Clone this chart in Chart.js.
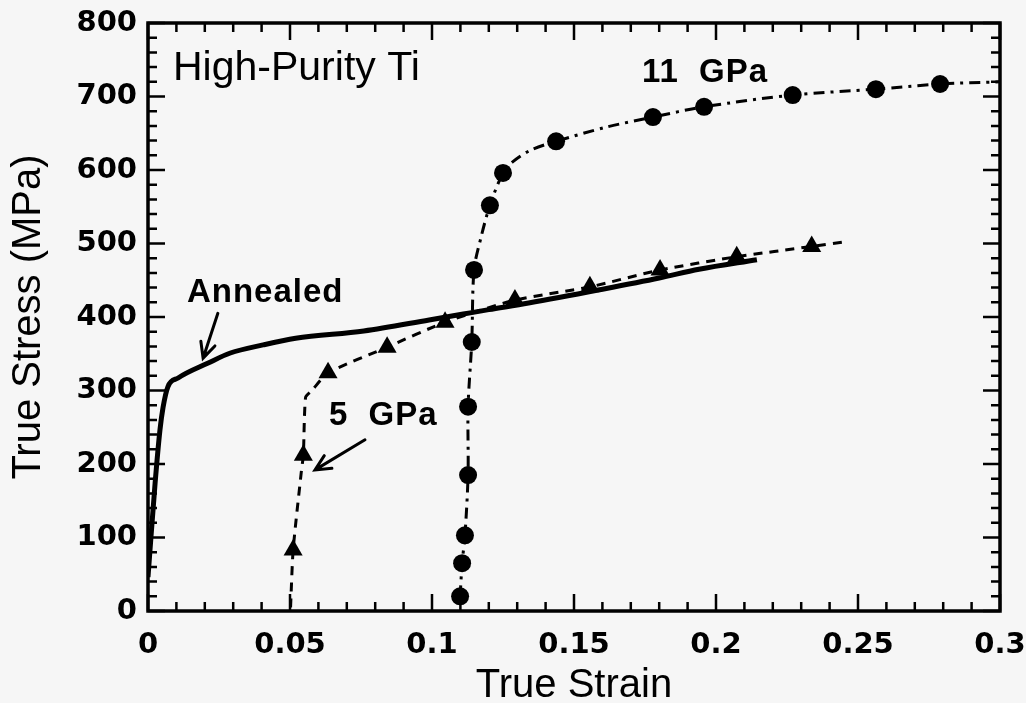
<!DOCTYPE html>
<html>
<head>
<meta charset="utf-8">
<script src="https://cdn.jsdelivr.net/npm/chart.js@4.4.1/dist/chart.umd.min.js"></script>
<style>
html,body{margin:0;padding:0;background:#f6f6f6;}
canvas{display:block;}
</style>
</head>
<body>
<canvas id="c" width="1026" height="703"></canvas>
<script>
// ---- Data ----
const annealedStrain = [0, 0.0007, 0.0025, 0.0042, 0.0053, 0.007, 0.0106, 0.021, 0.029, 0.0405, 0.052, 0.076, 0.099, 0.111, 0.12, 0.134, 0.159, 0.180, 0.194, 0.2144];
const annealedStress = [46, 83, 174, 246, 277, 305, 317, 337, 351, 362, 371, 381, 396, 404, 410, 419, 437, 453, 465, 478];

const gpa5LineStrain = [0.0502, 0.0511, 0.0540, 0.0547, 0.0555, 0.0577, 0.0634, 0.0842, 0.1046, 0.1292, 0.1556, 0.1803, 0.2073, 0.2337, 0.2465];
const gpa5LineStress = [5, 83, 190, 212, 291, 300, 324, 359, 393, 423, 441, 464, 482, 496, 503];
const gpa5MarkStrain = [0.0511, 0.0547, 0.0634, 0.0842, 0.1046, 0.1292, 0.1556, 0.1803, 0.2073, 0.2337];
const gpa5MarkStress = [83, 212, 324, 359, 393, 423, 441, 464, 482, 496];

const gpa11LineStrain = [0.1099, 0.1106, 0.1116, 0.1127, 0.1127, 0.1140, 0.1148, 0.1173, 0.1204, 0.1250, 0.1284, 0.1347, 0.1437, 0.1610, 0.1778, 0.1958, 0.2270, 0.2563, 0.2789, 0.3];
const gpa11LineStress = [20, 65, 103, 185, 278, 366, 464, 509, 552, 596, 611, 627, 639, 658, 672, 686, 702, 710, 717, 720];
const gpa11MarkStrain = [0.1099, 0.1106, 0.1116, 0.1127, 0.1127, 0.1140, 0.1148, 0.1204, 0.1250, 0.1437, 0.1778, 0.1958, 0.2270, 0.2563, 0.2789];
const gpa11MarkStress = [20, 65, 103, 185, 278, 366, 464, 552, 596, 639, 672, 686, 702, 710, 717];

const xTickValues = [0, 0.05, 0.1, 0.15, 0.2, 0.25, 0.3];
const xTickLabels = ['0', '0.05', '0.1', '0.15', '0.2', '0.25', '0.3'];
const yTickValues = [0, 100, 200, 300, 400, 500, 600, 700, 800];
const yTickLabels = ['0', '100', '200', '300', '400', '500', '600', '700', '800'];
const xMinorStep = 0.01, yMinorStep = 20;

const pts = (xs, ys) => xs.map((v, i) => ({x: v, y: ys[i]}));

// ---- Annotations (data-space anchors) ----
const notes = [
  {text: 'High-Purity Ti', x: 0.0088, y: 722, font: '41px "Liberation Sans"', spacing: '0px'},
  {text: 'Annealed', x: 0.0137, y: 420, font: 'bold 33px "Liberation Sans"', spacing: '1px'},
  {text: '5  GPa', x: 0.0637, y: 253, font: 'bold 33px "Liberation Sans"', spacing: '1px'},
  {text: '11  GPa', x: 0.1739, y: 720, font: 'bold 33px "Liberation Sans"', spacing: '1px'}
];
const arrows = [
  {from: [0.0246, 405], to: [0.0194, 344]},
  {from: [0.0764, 233], to: [0.0588, 192]}
];

const bgPlugin = {
  id: 'bg',
  beforeDraw(chart) {
    const {ctx, width, height} = chart;
    ctx.save();
    ctx.fillStyle = '#f6f6f6';
    ctx.fillRect(0, 0, width, height);
    ctx.restore();
  }
};

const framePlugin = {
  id: 'frame',
  beforeDatasetsDraw(chart) {
    const {ctx, chartArea: a, scales: {x, y}} = chart;
    ctx.save();
    ctx.strokeStyle = '#000';
    ctx.lineWidth = 2.5;
    ctx.beginPath();
    const nx = Math.round((x.max - x.min) / xMinorStep);
    for (let i = 0; i <= nx; i++) {
      const px = x.getPixelForValue(x.min + i * xMinorStep);
      const len = i % 5 === 0 ? 17 : 9;
      ctx.moveTo(px, a.bottom); ctx.lineTo(px, a.bottom - len);
      ctx.moveTo(px, a.top); ctx.lineTo(px, a.top + len);
    }
    const ny = Math.round((y.max - y.min) / yMinorStep);
    for (let i = 0; i <= ny; i++) {
      const py = y.getPixelForValue(y.min + i * yMinorStep);
      const len = i % 5 === 0 ? 17 : 9;
      ctx.moveTo(a.left, py); ctx.lineTo(a.left + len, py);
      ctx.moveTo(a.right, py); ctx.lineTo(a.right - len, py);
    }
    ctx.stroke();
    ctx.lineWidth = 3.5;
    ctx.strokeRect(a.left, a.top, a.right - a.left, a.bottom - a.top);
    ctx.restore();
  },
  afterDatasetsDraw(chart) {
    const {ctx, scales: {x, y}} = chart;
    ctx.save();
    ctx.fillStyle = '#000';
    ctx.textBaseline = 'alphabetic';
    ctx.textAlign = 'left';
    notes.forEach(n => {
      ctx.font = n.font;
      ctx.letterSpacing = n.spacing;
      ctx.fillText(n.text, x.getPixelForValue(n.x), y.getPixelForValue(n.y));
    });
    ctx.letterSpacing = '0px';
    ctx.strokeStyle = '#000';
    ctx.lineWidth = 3;
    ctx.lineCap = 'round';
    arrows.forEach(ar => {
      const x0 = x.getPixelForValue(ar.from[0]), y0 = y.getPixelForValue(ar.from[1]);
      const x1 = x.getPixelForValue(ar.to[0]), y1 = y.getPixelForValue(ar.to[1]);
      const ang = Math.atan2(y1 - y0, x1 - x0);
      const hl = 17, ha = 0.45;
      ctx.beginPath();
      ctx.moveTo(x0, y0); ctx.lineTo(x1, y1);
      ctx.moveTo(x1 - hl * Math.cos(ang - ha), y1 - hl * Math.sin(ang - ha));
      ctx.lineTo(x1, y1);
      ctx.lineTo(x1 - hl * Math.cos(ang + ha), y1 - hl * Math.sin(ang + ha));
      ctx.stroke();
    });
    ctx.restore();
  }
};

const tickFont = {family: '"DejaVu Sans"', weight: 'bold', size: 29};

new Chart(document.getElementById('c'), {
  type: 'line',
  data: {
    datasets: [
      {label: '11 GPa markers', type: 'scatter', data: pts(gpa11MarkStrain, gpa11MarkStress), pointStyle: 'circle', pointRadius: 9, backgroundColor: '#000', borderColor: '#000', borderWidth: 0, showLine: false, order: 0},
      {label: '5 GPa markers', type: 'scatter', data: pts(gpa5MarkStrain, gpa5MarkStress), pointStyle: 'triangle', pointRadius: 11, backgroundColor: '#000', borderColor: '#000', borderWidth: 0, showLine: false, order: 0},
      {label: 'Annealed', data: pts(annealedStrain, annealedStress), borderColor: '#000', borderWidth: 5, pointRadius: 0, cubicInterpolationMode: 'monotone', fill: false, order: 1},
      {label: '5 GPa', data: pts(gpa5LineStrain, gpa5LineStress), borderColor: '#000', borderWidth: 3, borderDash: [9, 7], pointRadius: 0, tension: 0.2, fill: false, order: 1},
      {label: '11 GPa', data: pts(gpa11LineStrain, gpa11LineStress), borderColor: '#000', borderWidth: 3, borderDash: [11, 6, 3, 6], pointRadius: 0, tension: 0.3, fill: false, order: 1}
    ]
  },
  options: {
    responsive: false,
    animation: false,
    devicePixelRatio: 1,
    layout: {padding: {top: 23, right: 26, left: 0, bottom: 0}},
    plugins: {legend: {display: false}, tooltip: {enabled: false}},
    scales: {
      x: {
        type: 'linear', position: 'bottom', min: 0, max: 0.3,
        afterBuildTicks(s) { s.ticks = xTickValues.map(v => ({value: v})); },
        afterFit(s) { s.height = 92; s.paddingLeft = 0; s.paddingRight = 0; },
        ticks: {callback: (v, i) => xTickLabels[i], font: tickFont, color: '#000', padding: 17, maxRotation: 0, autoSkip: false},
        grid: {display: false, drawTicks: false},
        border: {display: false},
        title: {display: true, text: 'True Strain', color: '#000', font: {family: '"Liberation Sans"', size: 40, lineHeight: 0.85}, padding: 0}
      },
      y: {
        type: 'linear', position: 'left', min: 0, max: 800,
        afterBuildTicks(s) { s.ticks = yTickValues.map(v => ({value: v})); },
        afterFit(s) { s.width = 148; s.paddingTop = 0; s.paddingBottom = 0; },
        ticks: {callback: (v, i) => yTickLabels[i], font: tickFont, color: '#000', padding: 11, autoSkip: false},
        grid: {display: false, drawTicks: false},
        border: {display: false},
        title: {display: true, text: 'True Stress (MPa)', color: '#000', font: {family: '"Liberation Sans"', size: 40, lineHeight: 1.2}, padding: {top: 5, bottom: 0}}
      }
    }
  },
  plugins: [bgPlugin, framePlugin]
});
</script>
</body>
</html>
